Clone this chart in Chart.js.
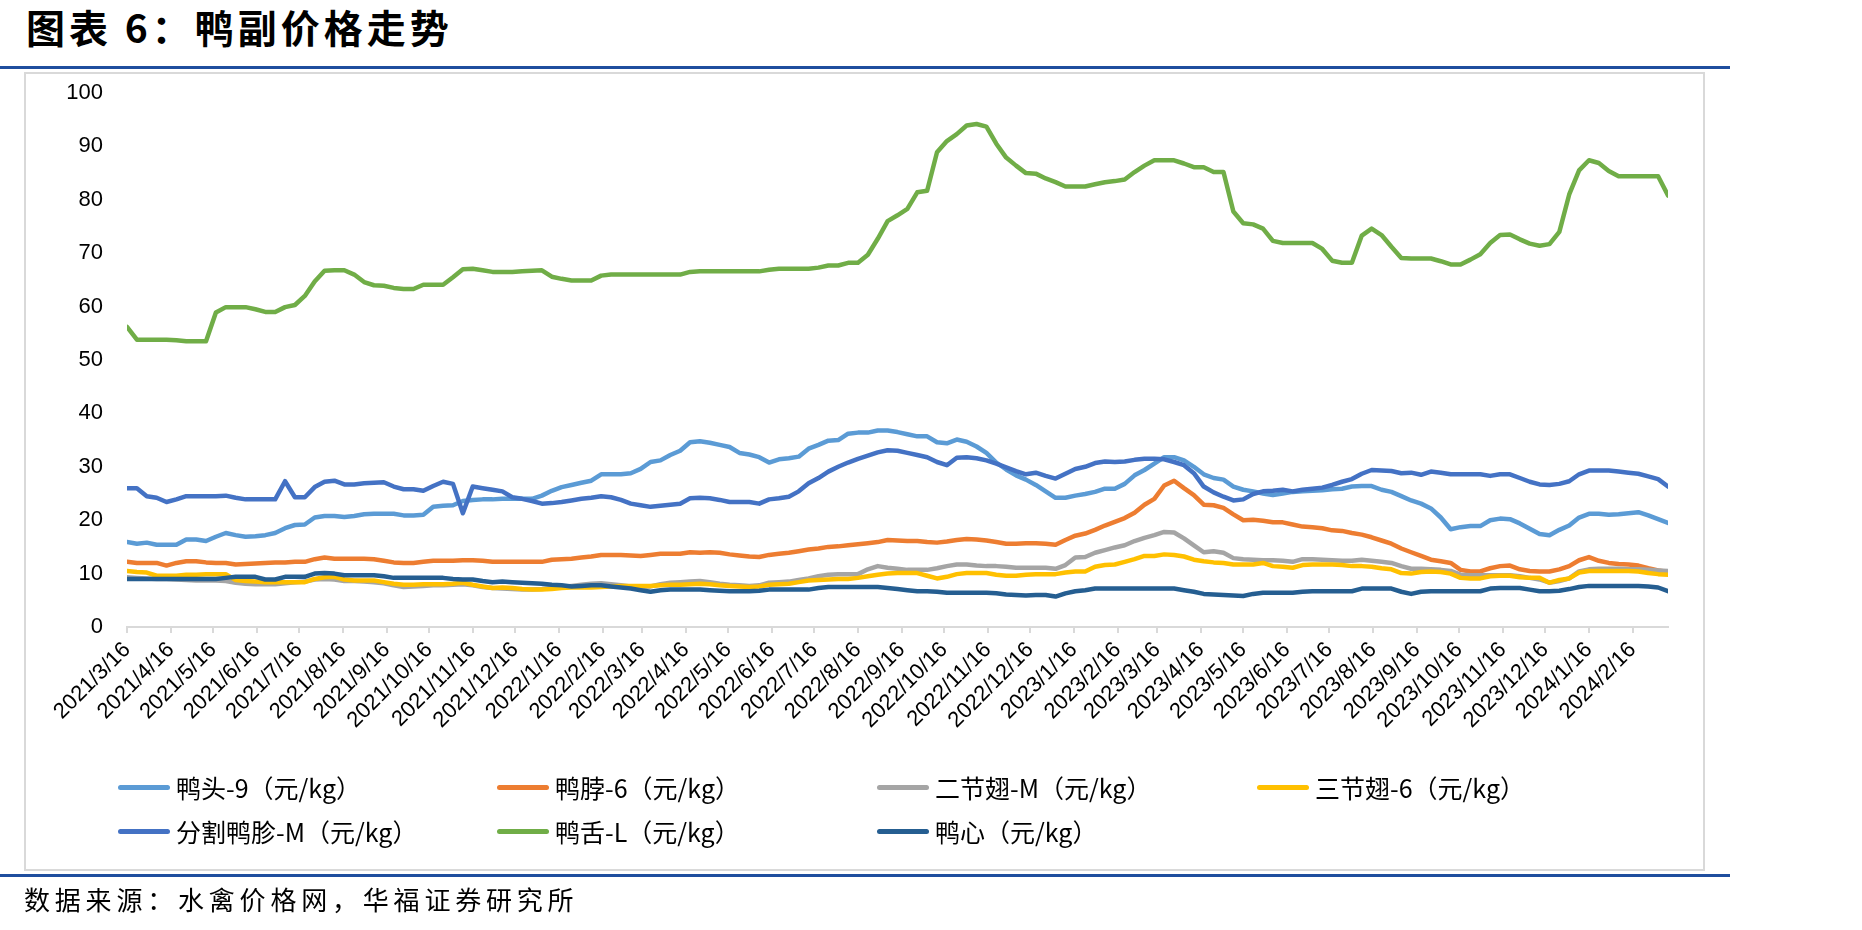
<!DOCTYPE html>
<html>
<head>
<meta charset="utf-8">
<script src="https://cdn.jsdelivr.net/npm/chart.js@4/dist/chart.umd.min.js"></script>
<style>
    body { margin: 0; background: #fff; }
    #page { position: relative; width: 1862px; height: 930px; overflow: hidden; background: #fff; }
    #title { position: absolute; left: 26px; top: 7px; font: 700 39px/1 "Noto Sans CJK SC", sans-serif; letter-spacing: 4px; color: #000; white-space: nowrap; }
    .rule { position: absolute; left: 0; width: 1730px; height: 3px; background: #1F4E9E; }
    #frame { position: absolute; left: 24px; top: 72px; width: 1677px; height: 795px; border: 2px solid #D9D9D9; }
    #chart { position: absolute; left: 0; top: 0; }
    #legend { position: absolute; left: 0; top: 0; }
    .item { position: absolute; display: flex; align-items: center; white-space: nowrap; font: 25px/34px "Noto Sans CJK SC", sans-serif; color: #000; }
    .swatch { width: 52px; height: 5px; border-radius: 3px; margin-right: 6px; }
    #source { position: absolute; left: 24px; top: 880px; font: 26px "Noto Sans CJK SC", sans-serif; letter-spacing: 4.8px; color: #000; white-space: nowrap; }
</style>
</head>
<body>
<div id="page">
    <div id="title">图表 6：鸭副价格走势</div>
    <div class="rule" style="top:66px"></div>
    <div id="frame"></div>
    <canvas id="chart" width="1862" height="930"></canvas>
    <div id="legend"></div>
    <div class="rule" style="top:874px"></div>
    <div id="source">数据来源：水禽价格网，华福证券研究所</div>
</div>
<script>
// weekly prices, first week 2021/3/16
const firstDate = '2021/3/16';
const stepDays = 7;

const tickLabels = [
    '2021/3/16', '2021/4/16', '2021/5/16', '2021/6/16', '2021/7/16', '2021/8/16',
    '2021/9/16', '2021/10/16', '2021/11/16', '2021/12/16', '2022/1/16', '2022/2/16',
    '2022/3/16', '2022/4/16', '2022/5/16', '2022/6/16', '2022/7/16', '2022/8/16',
    '2022/9/16', '2022/10/16', '2022/11/16', '2022/12/16', '2023/1/16', '2023/2/16',
    '2023/3/16', '2023/4/16', '2023/5/16', '2023/6/16', '2023/7/16', '2023/8/16',
    '2023/9/16', '2023/10/16', '2023/11/16', '2023/12/16', '2024/1/16', '2024/2/16'
];

const seriesNames = [
    '鸭头-9（元/kg）', '鸭脖-6（元/kg）', '二节翅-M（元/kg）', '三节翅-6（元/kg）',
    '分割鸭胗-M（元/kg）', '鸭舌-L（元/kg）', '鸭心（元/kg）'
];
const seriesColors = ['#5B9BD5', '#ED7D31', '#A5A5A5', '#FFC000', '#4472C4', '#70AD47', '#255E91'];

const duckHead = [
    15.9, 15.6, 15.8, 15.4, 15.4, 15.4, 16.4, 16.4, 16.1, 16.9,
    17.6, 17.2, 16.9, 17.0, 17.2, 17.6, 18.5, 19.1, 19.2, 20.5,
    20.8, 20.8, 20.6, 20.8, 21.1, 21.2, 21.2, 21.2, 20.9, 20.9,
    21.0, 22.5, 22.7, 22.8, 23.6, 23.8, 23.9, 23.9, 24.0, 24.0,
    24.0, 24.0, 24.6, 25.5, 26.2, 26.6, 27.0, 27.4, 28.6, 28.6,
    28.6, 28.8, 29.6, 30.9, 31.2, 32.2, 33.0, 34.6, 34.8, 34.5,
    34.1, 33.7, 32.6, 32.3, 31.8, 30.8, 31.4, 31.6, 31.9, 33.4,
    34.1, 34.9, 35.0, 36.2, 36.4, 36.4, 36.8, 36.8, 36.5, 36.1,
    35.7, 35.7, 34.6, 34.4, 35.1, 34.7, 33.8, 32.6, 30.8, 29.5,
    28.4, 27.6, 26.6, 25.4, 24.2, 24.2, 24.6, 24.9, 25.3, 25.9,
    25.9, 26.8, 28.4, 29.4, 30.6, 31.8, 31.8, 31.2, 30.0, 28.6,
    27.9, 27.6, 26.3, 25.7, 25.4, 25.0, 24.7, 25.0, 25.3, 25.4,
    25.5, 25.6, 25.8, 25.9, 26.3, 26.4, 26.4, 25.7, 25.3, 24.5,
    23.7, 23.1, 22.2, 20.5, 18.3, 18.7, 18.9, 18.9, 20.0, 20.3,
    20.2, 19.4, 18.4, 17.4, 17.2, 18.2, 19.0, 20.5, 21.2, 21.2,
    21.0, 21.1, 21.3, 21.5, 20.9, 20.2, 19.5
];

const duckNeck = [
    12.2, 12.0, 12.0, 12.0, 11.5, 12.0, 12.3, 12.3, 12.1, 12.0,
    12.0, 11.7, 11.8, 11.9, 12.0, 12.1, 12.1, 12.2, 12.2, 12.7,
    13.0, 12.8, 12.8, 12.8, 12.8, 12.7, 12.4, 12.1, 12.0, 12.0,
    12.2, 12.4, 12.4, 12.4, 12.5, 12.5, 12.4, 12.2, 12.2, 12.2,
    12.2, 12.2, 12.2, 12.6, 12.7, 12.8, 13.0, 13.2, 13.5, 13.5,
    13.5, 13.4, 13.3, 13.5, 13.7, 13.7, 13.7, 14.0, 13.9, 14.0,
    13.9, 13.6, 13.4, 13.2, 13.1, 13.5, 13.7, 13.9, 14.2, 14.5,
    14.7, 15.0, 15.1, 15.3, 15.5, 15.7, 15.9, 16.3, 16.2, 16.1,
    16.1, 15.9, 15.8, 16.0, 16.3, 16.5, 16.4, 16.2, 15.9, 15.6,
    15.6, 15.7, 15.7, 15.6, 15.4, 16.3, 17.1, 17.5, 18.2, 19.0,
    19.7, 20.4, 21.4, 22.9, 24.0, 26.5, 27.4, 26.0, 24.7, 22.9,
    22.8, 22.3, 21.1, 20.0, 20.1, 19.9, 19.6, 19.6, 19.2, 18.8,
    18.7, 18.5, 18.1, 18.0, 17.6, 17.3, 16.8, 16.2, 15.6, 14.7,
    14.0, 13.3, 12.6, 12.3, 12.0, 10.7, 10.4, 10.4, 11.0, 11.4,
    11.5, 10.8, 10.5, 10.4, 10.4, 10.8, 11.4, 12.5, 13.1, 12.4,
    12.0, 11.8, 11.7, 11.5, 11.0, 10.6, 10.3
];

const wingMid = [
    9.3, 9.2, 9.1, 9.0, 9.0, 8.9, 8.8, 8.7, 8.7, 8.7,
    8.6, 8.3, 8.1, 8.0, 8.0, 8.0, 8.2, 8.4, 8.5, 8.9,
    9.0, 8.9, 8.6, 8.6, 8.5, 8.4, 8.2, 7.8, 7.5, 7.6,
    7.7, 7.8, 7.8, 7.9, 8.0, 7.8, 7.5, 7.3, 7.2, 7.1,
    7.0, 7.0, 7.1, 7.3, 7.5, 7.7, 7.9, 8.1, 8.2, 8.0,
    7.8, 7.6, 7.5, 7.6, 8.0, 8.3, 8.4, 8.5, 8.6, 8.4,
    8.1, 7.9, 7.8, 7.7, 7.8, 8.3, 8.4, 8.5, 8.8, 9.1,
    9.5, 9.8, 9.9, 9.9, 9.9, 10.8, 11.4, 11.1, 10.9, 10.7,
    10.7, 10.7, 11.0, 11.4, 11.7, 11.7, 11.5, 11.4, 11.4, 11.3,
    11.1, 11.1, 11.1, 11.1, 10.9, 11.6, 13.0, 13.1, 13.9, 14.4,
    14.9, 15.3, 16.1, 16.7, 17.2, 17.8, 17.7, 16.6, 15.3, 14.0,
    14.2, 13.9, 12.9, 12.7, 12.6, 12.5, 12.5, 12.4, 12.2, 12.7,
    12.7, 12.6, 12.5, 12.4, 12.4, 12.6, 12.4, 12.2, 12.0, 11.4,
    10.9, 10.9, 10.8, 10.7, 10.5, 9.8, 9.7, 9.7, 9.7, 9.7,
    9.7, 9.5, 9.2, 8.9, 8.3, 8.6, 9.1, 10.4, 10.8, 10.9,
    10.9, 10.9, 10.8, 10.8, 10.7, 10.6, 10.5
];

const wingFull = [
    10.5, 10.3, 10.2, 9.6, 9.6, 9.6, 9.8, 9.8, 9.9, 9.9,
    9.9, 8.8, 8.6, 8.5, 8.4, 8.4, 8.4, 8.4, 8.4, 9.0,
    9.3, 9.4, 8.9, 8.7, 8.7, 8.7, 8.4, 8.1, 7.9, 7.9,
    8.0, 8.0, 8.0, 8.1, 8.3, 7.9, 7.6, 7.3, 7.4, 7.3,
    7.1, 7.0, 7.0, 7.1, 7.3, 7.4, 7.4, 7.4, 7.5, 7.6,
    7.7, 7.7, 7.7, 7.7, 7.8, 7.9, 7.9, 8.0, 8.1, 8.0,
    7.8, 7.7, 7.6, 7.5, 7.6, 7.9, 8.0, 8.1, 8.4, 8.7,
    8.8, 8.9, 9.0, 9.0, 9.2, 9.5, 9.8, 10.0, 10.1, 10.1,
    10.1, 9.6, 9.1, 9.4, 9.9, 10.1, 10.1, 10.1, 9.8, 9.6,
    9.6, 9.8, 9.9, 9.9, 9.9, 10.2, 10.4, 10.4, 11.3, 11.6,
    11.7, 12.2, 12.7, 13.3, 13.3, 13.6, 13.5, 13.2, 12.6, 12.3,
    12.1, 12.0, 11.7, 11.7, 11.7, 12.0, 11.4, 11.3, 11.1, 11.6,
    11.7, 11.7, 11.7, 11.6, 11.4, 11.4, 11.3, 11.0, 10.8, 10.1,
    10.0, 10.3, 10.4, 10.3, 10.0, 9.2, 9.1, 9.1, 9.5, 9.6,
    9.6, 9.3, 9.2, 9.2, 8.3, 8.8, 9.1, 10.2, 10.5, 10.5,
    10.5, 10.5, 10.5, 10.4, 10.1, 9.9, 9.8
];

const gizzard = [
    26.0, 26.0, 24.5, 24.2, 23.4, 23.9, 24.5, 24.5, 24.5, 24.5,
    24.6, 24.2, 23.9, 23.9, 23.9, 23.9, 27.3, 24.3, 24.3, 26.2,
    27.2, 27.4, 26.7, 26.7, 26.9, 27.0, 27.1, 26.3, 25.8, 25.8,
    25.5, 26.4, 27.2, 26.8, 21.3, 26.3, 26.0, 25.7, 25.4, 24.3,
    24.0, 23.6, 23.1, 23.2, 23.4, 23.7, 24.0, 24.2, 24.5, 24.3,
    23.8, 23.1, 22.8, 22.5, 22.7, 22.9, 23.1, 24.1, 24.2, 24.1,
    23.8, 23.4, 23.4, 23.4, 23.1, 23.9, 24.1, 24.4, 25.4, 26.9,
    27.9, 29.1, 30.0, 30.8, 31.5, 32.1, 32.7, 33.1, 33.0, 32.6,
    32.2, 31.8, 30.9, 30.3, 31.7, 31.8, 31.6, 31.2, 30.6, 29.9,
    29.2, 28.6, 28.9, 28.3, 27.8, 28.7, 29.6, 30.0, 30.7, 31.0,
    30.9, 31.0, 31.3, 31.5, 31.5, 31.4, 30.9, 30.3, 28.8, 26.3,
    25.2, 24.4, 23.7, 23.9, 24.9, 25.4, 25.5, 25.7, 25.4, 25.7,
    25.9, 26.1, 26.6, 27.2, 27.7, 28.7, 29.4, 29.3, 29.2, 28.8,
    28.9, 28.5, 29.1, 28.9, 28.6, 28.6, 28.6, 28.6, 28.3, 28.6,
    28.6, 27.9, 27.2, 26.7, 26.6, 26.8, 27.3, 28.6, 29.3, 29.3,
    29.3, 29.1, 28.9, 28.7, 28.2, 27.7, 26.3
];

const duckTongue = [
    56.2, 53.8, 53.8, 53.8, 53.8, 53.7, 53.5, 53.5, 53.5, 58.9,
    59.9, 59.9, 59.9, 59.5, 59.0, 59.0, 59.9, 60.3, 62.0, 64.7,
    66.7, 66.8, 66.8, 66.0, 64.6, 64.0, 63.9, 63.5, 63.3, 63.3,
    64.1, 64.1, 64.1, 65.5, 67.0, 67.1, 66.8, 66.5, 66.5, 66.5,
    66.6, 66.7, 66.8, 65.6, 65.2, 64.9, 64.9, 64.9, 65.8, 66.0,
    66.0, 66.0, 66.0, 66.0, 66.0, 66.0, 66.0, 66.5, 66.6, 66.6,
    66.6, 66.6, 66.6, 66.6, 66.6, 66.9, 67.1, 67.1, 67.1, 67.1,
    67.3, 67.7, 67.7, 68.2, 68.2, 69.7, 72.7, 76.0, 77.1, 78.3,
    81.4, 81.7, 88.9, 91.0, 92.3, 93.9, 94.2, 93.7, 90.5, 87.9,
    86.4, 85.0, 84.9, 84.0, 83.3, 82.5, 82.5, 82.5, 82.9, 83.3,
    83.5, 83.8, 85.2, 86.4, 87.4, 87.4, 87.4, 86.8, 86.1, 86.1,
    85.2, 85.2, 77.8, 75.6, 75.4, 74.6, 72.3, 71.9, 71.9, 71.9,
    71.9, 70.8, 68.6, 68.2, 68.2, 73.3, 74.6, 73.4, 71.2, 69.1,
    69.0, 69.0, 69.0, 68.5, 67.9, 67.9, 68.8, 69.8, 71.9, 73.4,
    73.5, 72.6, 71.8, 71.4, 71.7, 74.0, 81.0, 85.5, 87.4, 86.9,
    85.4, 84.4, 84.4, 84.4, 84.4, 84.4, 80.8
];

const duckHeart = [
    9.0, 9.0, 9.0, 9.0, 9.0, 9.0, 9.0, 9.0, 9.0, 9.0,
    9.2, 9.4, 9.4, 9.4, 8.9, 8.9, 9.4, 9.4, 9.4, 10.0,
    10.1, 10.0, 9.7, 9.7, 9.7, 9.7, 9.5, 9.2, 9.2, 9.2,
    9.2, 9.2, 9.2, 9.0, 8.9, 8.9, 8.6, 8.4, 8.5, 8.4,
    8.3, 8.2, 8.1, 7.9, 7.8, 7.6, 7.7, 7.8, 7.8, 7.6,
    7.4, 7.2, 6.9, 6.6, 6.9, 7.0, 7.0, 7.0, 7.0, 6.9,
    6.8, 6.7, 6.7, 6.7, 6.8, 7.0, 7.0, 7.0, 7.0, 7.0,
    7.3, 7.5, 7.5, 7.5, 7.5, 7.5, 7.5, 7.3, 7.1, 6.9,
    6.7, 6.7, 6.6, 6.4, 6.4, 6.4, 6.4, 6.4, 6.3, 6.1,
    6.0, 5.9, 6.0, 6.0, 5.7, 6.3, 6.7, 6.9, 7.2, 7.2,
    7.2, 7.2, 7.2, 7.2, 7.2, 7.2, 7.2, 6.9, 6.6, 6.2,
    6.1, 6.0, 5.9, 5.8, 6.2, 6.4, 6.4, 6.4, 6.4, 6.6,
    6.7, 6.7, 6.7, 6.7, 6.7, 7.2, 7.2, 7.2, 7.2, 6.6,
    6.2, 6.6, 6.7, 6.7, 6.7, 6.7, 6.7, 6.7, 7.2, 7.3,
    7.3, 7.3, 7.0, 6.7, 6.7, 6.8, 7.1, 7.5, 7.7, 7.7,
    7.7, 7.7, 7.7, 7.7, 7.6, 7.4, 6.7
];

const seriesValues = [duckHead, duckNeck, wingMid, wingFull, gizzard, duckTongue, duckHeart];

function dayOffset(str) {
    const [y, m, d] = str.split('/').map(Number);
    const [y0, m0, d0] = firstDate.split('/').map(Number);
    return (Date.UTC(y, m - 1, d) - Date.UTC(y0, m0 - 1, d0)) / 86400000;
}

const lastDay = (duckTongue.length - 1) * stepDays;

const datasets = seriesValues.map((vals, k) => ({
    label: seriesNames[k],
    data: vals.map((v, i) => ({ x: i * stepDays, y: v })),
    borderColor: seriesColors[k],
    backgroundColor: seriesColors[k],
    borderWidth: 4.5,
    pointRadius: 0,
    tension: 0,
    borderJoinStyle: 'round',
    borderCapStyle: 'round',
    order: seriesValues.length - k   // later series painted on top, like the source
}));

Chart.defaults.font.family = '"Liberation Sans", Arial, sans-serif';
Chart.defaults.color = '#000';

new Chart(document.getElementById('chart'), {
    type: 'line',
    data: { datasets: datasets },
    options: {
        responsive: false,
        animation: false,
        events: [],
        layout: { padding: { left: 0, top: 93, right: 194, bottom: 183 } },
        plugins: { legend: { display: false }, tooltip: { enabled: false } },
        scales: {
            x: {
                type: 'linear',
                min: 0,
                max: lastDay,
                afterFit: function(scale) { scale.height = 120; },
                afterBuildTicks: function(scale) {
                    scale.ticks = tickLabels.map(t => ({ value: dayOffset(t) }));
                },
                grid: { display: true, drawOnChartArea: false, drawTicks: true, tickLength: 6, color: '#D9D9D9', lineWidth: 2 },
                border: { display: true, color: '#D9D9D9', width: 2 },
                ticks: {
                    autoSkip: false,
                    minRotation: 45,
                    maxRotation: 45,
                    padding: 4,
                    font: { size: 22 },
                    callback: function(value, index) { return tickLabels[index]; }
                }
            },
            y: {
                min: 0,
                max: 100,
                afterFit: function(scale) { scale.width = 127; },
                grid: { display: false, drawTicks: false },
                border: { display: false },
                ticks: { stepSize: 10, padding: 24, font: { size: 22 } }
            }
        }
    }
});

// legend laid out in four fixed columns as in the source
const legend = document.getElementById('legend');
const colX = [118, 497, 877, 1257];
const rowY = [787, 831];
seriesNames.forEach((name, k) => {
    const item = document.createElement('div');
    item.className = 'item';
    item.style.left = colX[k % 4] + 'px';
    item.style.top = (rowY[Math.floor(k / 4)] - 17) + 'px';
    item.innerHTML = `<span class="swatch" style="background:${seriesColors[k]}"></span><span>${name}</span>`;
    legend.appendChild(item);
});
</script>
</body>
</html>
